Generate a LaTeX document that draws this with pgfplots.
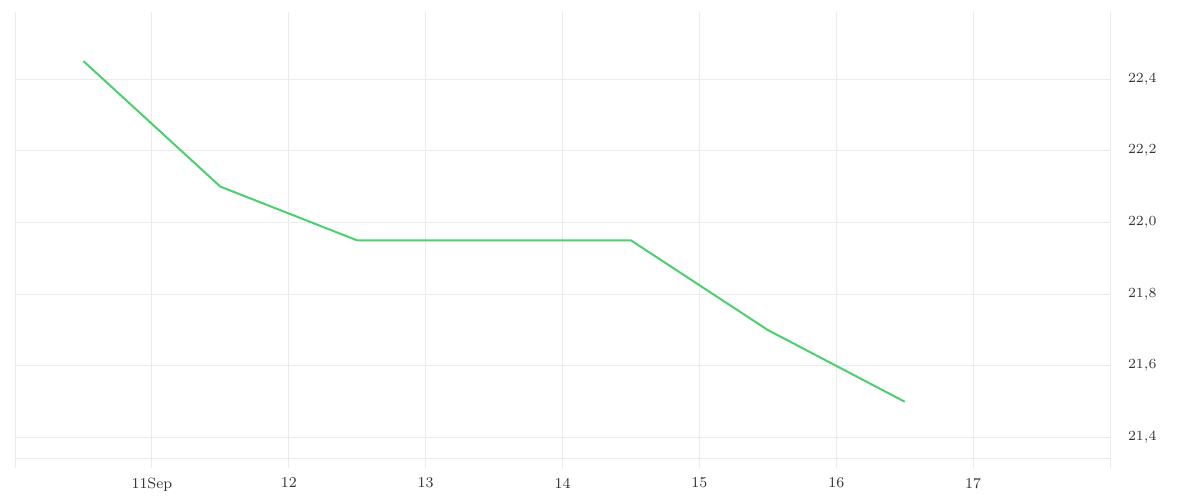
\documentclass[border=0pt]{standalone}
\usepackage{pgfplots}
\pgfplotsset{compat=1.18}
\definecolor{gridgray}{HTML}{EBEBEB}
\definecolor{linegreen}{HTML}{4CCF6E}
\definecolor{labelgray}{HTML}{333333}
\begin{document}
\begin{tikzpicture}
\useasboundingbox (0,0) rectangle (600bp,250bp);
\begin{axis}[
    at={(7.5bp,21bp)}, anchor=south west,
    scale only axis,
    width=547.5bp, height=223bp,
    xmin=10, xmax=18,
    ymin=21.343, ymax=22.587,
    axis x line*=bottom,
    axis y line*=right,
    x axis line style={gridgray, line width=0.5pt, -},
    y axis line style={draw=none},
    xtick={10,11,12,13,14,15,16,17,18},
    xticklabels={,11Sep,12,13,14,15,16,17,},
    major tick length=5bp,
    tick align=outside,
    xtick style={gridgray, line width=0.5pt},
    ytick={21.4,21.6,21.8,22.0,22.2,22.4},
    ytick style={draw=none},
    grid=major,
    major grid style={gridgray, line width=0.5pt},
    ticklabel style={font=\fontsize{7.5}{9}\selectfont, text=labelgray},
    xticklabel style={yshift=-1.5bp},
    yticklabel style={
        /pgf/number format/.cd, use comma, fixed, fixed zerofill, precision=1,
        /tikz/.cd, anchor=west, xshift=0.5bp},
    clip=false,
]
\addplot[linegreen, line width=1bp] coordinates {
    (10.5,22.45)
    (11.5,22.10)
    (12.5,21.95)
    (14.5,21.95)
    (15.5,21.70)
    (16.5,21.50)
};
\end{axis}
\end{tikzpicture}
\end{document}
